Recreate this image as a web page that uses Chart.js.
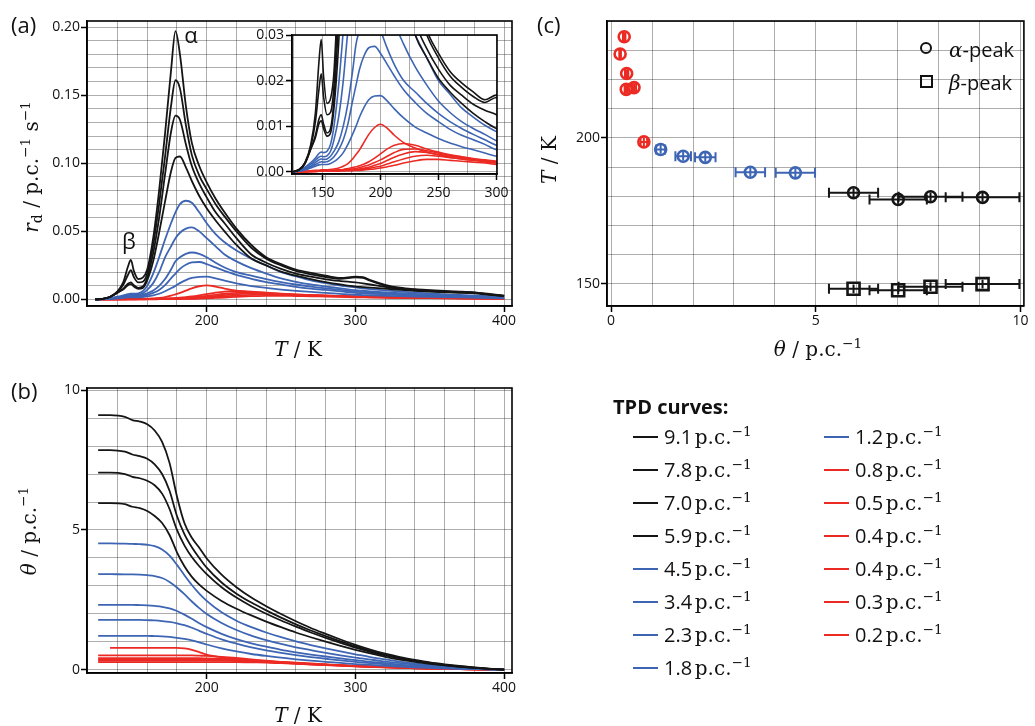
<!DOCTYPE html>
<html>
<head>
<meta charset="utf-8">
<script src="https://cdn.jsdelivr.net/npm/chart.js@4.4.1/dist/chart.umd.min.js"></script>
<style>
  body { margin: 0; background: #fff; }
  #page { position: relative; width: 1035px; height: 726px; overflow: hidden; font-family: "Open Sans", sans-serif; color: #111; }
  canvas { position: absolute; left: 0; top: 0; }
  .lbl { position: absolute; white-space: nowrap; line-height: 1; }
  .serif { font-family: "DejaVu Serif", serif; font-size: 20px; }
  .rot { transform: translate(-50%, -50%) rotate(-90deg); }
  .ctr { transform: translate(-50%, -50%); }
  .panel { font-size: 22px; }
  sup { font-size: 0.68em; vertical-align: 0.6em; line-height: 0; }
  sub { font-size: 0.7em; vertical-align: -0.3em; line-height: 0; }
  .row { position: absolute; height: 24px; white-space: nowrap; }
  .swatch { position: absolute; left: 0; top: 11px; width: 25px; height: 2px; }
  .rowtxt { position: absolute; left: 31px; top: 0; line-height: 24px; }
  .num { font-family: "Open Sans", sans-serif; font-size: 20px; }
</style>
</head>
<body>
<div id="page">
  <canvas id="chartA" width="1035" height="726"></canvas>
  <canvas id="chartInset" width="1035" height="726"></canvas>
  <canvas id="chartB" width="1035" height="726"></canvas>
  <canvas id="chartC" width="1035" height="726"></canvas>

  <div class="lbl panel" style="left:11px; top:13px;">(a)</div>
  <div class="lbl panel" style="left:11px; top:379px;">(b)</div>
  <div class="lbl panel" style="left:537px; top:13px;">(c)</div>

  <div class="lbl serif rot" style="left:31px; top:167px;"><i>r</i><sub>d</sub> / p.c.<sup>−1</sup> s<sup>−1</sup></div>
  <div class="lbl serif ctr" style="left:298px; top:349px;"><i>T</i> / K</div>
  <div class="lbl serif rot" style="left:29px; top:531px;"><i>θ</i> / p.c.<sup>−1</sup></div>
  <div class="lbl serif ctr" style="left:298px; top:715px;"><i>T</i> / K</div>
  <div class="lbl serif ctr" style="left:818px; top:349px;"><i>θ</i> / p.c.<sup>−1</sup></div>
  <div class="lbl serif rot" style="left:549px; top:160px;"><i>T</i> / K</div>

  <div class="lbl" style="left:920px; top:42px; width:12px; height:12px; border:2px solid #111; border-radius:50%; box-sizing:border-box;"></div>
  <div class="lbl" style="left:949px; top:40px; font-size:20px;"><span class="serif"><i>α</i></span>-peak</div>
  <div class="lbl" style="left:920px; top:75px; width:13px; height:13px; border:2px solid #111; box-sizing:border-box;"></div>
  <div class="lbl" style="left:949px; top:73px; font-size:20px;"><span class="serif"><i>β</i></span>-peak</div>

  <div class="lbl" style="left:613px; top:397px; font-size:20px; font-weight:700;">TPD curves:</div>
  <div id="legend"></div>
</div>

<script>
// ---- data ----
const temps = [125, 130, 135, 140, 144, 147, 149, 151, 154, 157, 160, 164, 168, 172, 176, 179,
  182, 186, 190, 195, 200, 206, 212, 220, 230, 240, 250, 260, 270, 280, 290,
  300, 305, 310, 320, 330, 340, 350, 360, 370, 380, 390, 400];

const rate91 = [0, 0.0005, 0.002, 0.006, 0.013, 0.024, 0.029, 0.021, 0.015, 0.016,
  0.022, 0.045, 0.080, 0.122, 0.168, 0.197, 0.180, 0.142, 0.115, 0.098, 0.086,
  0.074, 0.064, 0.052, 0.040, 0.031, 0.026, 0.022, 0.0195, 0.0175, 0.0158,
  0.0168, 0.0164, 0.0142, 0.0108, 0.0086, 0.0075, 0.0068, 0.0062, 0.0058, 0.0052, 0.004, 0.0028];
const rate78 = [0, 0.0005, 0.002, 0.0055, 0.011, 0.018, 0.0215, 0.0165, 0.0125, 0.013,
  0.019, 0.040, 0.070, 0.105, 0.142, 0.161, 0.155, 0.128, 0.106, 0.091, 0.081,
  0.070, 0.061, 0.050, 0.038, 0.030, 0.025, 0.021, 0.0185, 0.0165, 0.0152,
  0.0163, 0.0158, 0.0138, 0.0102, 0.0082, 0.0072, 0.0065, 0.006, 0.0056, 0.005, 0.0038, 0.0027];
const rate70 = [0, 0.0004, 0.0018, 0.005, 0.008, 0.0115, 0.0125, 0.0105, 0.0085, 0.0095,
  0.016, 0.034, 0.060, 0.092, 0.123, 0.135, 0.132, 0.114, 0.098, 0.085, 0.075,
  0.064, 0.056, 0.045, 0.033, 0.027, 0.0225, 0.019, 0.0168, 0.0148, 0.0135,
  0.0125, 0.0118, 0.011, 0.0092, 0.0077, 0.0067, 0.0061, 0.0056, 0.0052, 0.0046, 0.0036, 0.0026];
const rate59 = [0, 0.0004, 0.0018, 0.005, 0.0075, 0.0105, 0.0112, 0.0095, 0.0078, 0.0085,
  0.014, 0.028, 0.049, 0.072, 0.094, 0.104, 0.105, 0.097, 0.087, 0.076, 0.067,
  0.058, 0.050, 0.040, 0.030, 0.025, 0.0205, 0.0175, 0.015, 0.0128, 0.011,
  0.0095, 0.0091, 0.0087, 0.0079, 0.0071, 0.0063, 0.0057, 0.0053, 0.0049, 0.0044, 0.0034, 0.0025];
const rate45 = [0, 0.0003, 0.001, 0.002, 0.003, 0.004, 0.0043, 0.0042, 0.0045, 0.006,
  0.010, 0.019, 0.031, 0.044, 0.056, 0.064, 0.070, 0.0725, 0.071, 0.064, 0.056,
  0.048, 0.042, 0.036, 0.030, 0.025, 0.020, 0.017, 0.014, 0.012, 0.0102,
  0.0088, 0.0082, 0.0076, 0.0066, 0.0058, 0.005, 0.0044, 0.0038, 0.0033, 0.0028, 0.0023, 0.0018];
const rate34 = [0, 0.0002, 0.0008, 0.0016, 0.0025, 0.0032, 0.0034, 0.0033, 0.0035, 0.0045,
  0.007, 0.012, 0.020, 0.031, 0.039, 0.045, 0.049, 0.052, 0.053, 0.050, 0.045,
  0.039, 0.033, 0.028, 0.023, 0.019, 0.0155, 0.013, 0.011, 0.0095, 0.0082,
  0.0068, 0.0064, 0.006, 0.0052, 0.0046, 0.004, 0.0035, 0.003, 0.0026, 0.0022, 0.0018, 0.0015];
const rate23 = [0, 0.0002, 0.0006, 0.0012, 0.002, 0.0026, 0.0028, 0.0027, 0.0028, 0.0034,
  0.0045, 0.0065, 0.010, 0.015, 0.022, 0.028, 0.031, 0.0335, 0.0345, 0.0335, 0.031,
  0.027, 0.0235, 0.020, 0.0175, 0.015, 0.0128, 0.011, 0.0095, 0.0082, 0.007,
  0.0058, 0.0054, 0.0051, 0.0045, 0.0039, 0.0034, 0.003, 0.0026, 0.0022, 0.0019, 0.0016, 0.0013];
const rate18 = [0, 0.0002, 0.0005, 0.001, 0.0016, 0.002, 0.0022, 0.0021, 0.0022, 0.0026,
  0.0033, 0.0048, 0.007, 0.0105, 0.0155, 0.019, 0.0225, 0.0255, 0.0272, 0.0275, 0.026,
  0.0235, 0.021, 0.018, 0.0152, 0.0128, 0.011, 0.0093, 0.008, 0.007, 0.006,
  0.0048, 0.0045, 0.0042, 0.0037, 0.0032, 0.0028, 0.0025, 0.0022, 0.0019, 0.0016, 0.0014, 0.0011];
const rate12 = [0, 0.0001, 0.0004, 0.0008, 0.0012, 0.0015, 0.0016, 0.0016, 0.0016, 0.0018,
  0.0022, 0.003, 0.0042, 0.006, 0.0082, 0.010, 0.012, 0.0142, 0.0158, 0.0166, 0.0167,
  0.0155, 0.0138, 0.0118, 0.0098, 0.0085, 0.0073, 0.0063, 0.0055, 0.0048, 0.0041,
  0.0034, 0.0032, 0.003, 0.0027, 0.0024, 0.0021, 0.0019, 0.0017, 0.0015, 0.0013, 0.0011, 0.0009];
const rate08 = [0, 0, 0.0001, 0.0002, 0.0003, 0.0003, 0.0004, 0.0004, 0.0004, 0.0005,
  0.0006, 0.0008, 0.0012, 0.0018, 0.0028, 0.0038, 0.0048, 0.0065, 0.0082, 0.0097, 0.0104,
  0.0095, 0.008, 0.0064, 0.0052, 0.0043, 0.0037, 0.0032, 0.0028, 0.0025, 0.0022,
  0.0019, 0.0018, 0.0017, 0.0015, 0.0013, 0.0012, 0.0011, 0.001, 0.0009, 0.0008, 0.0007, 0.0006];
const rate05 = [0, 0, 0.0001, 0.0001, 0.0002, 0.0002, 0.0002, 0.0002, 0.0002, 0.0003,
  0.0003, 0.0004, 0.0005, 0.0007, 0.0009, 0.0011, 0.0013, 0.0017, 0.0022, 0.003, 0.0039,
  0.005, 0.0058, 0.0062, 0.0058, 0.005, 0.0043, 0.0037, 0.0033, 0.0029, 0.0026,
  0.0023, 0.0022, 0.0021, 0.0018, 0.0016, 0.0014, 0.0013, 0.0011, 0.001, 0.0009, 0.0008, 0.0006];
const rate04a = [0, 0, 0, 0.0001, 0.0001, 0.0002, 0.0002, 0.0002, 0.0002, 0.0002,
  0.0003, 0.0003, 0.0004, 0.0005, 0.0006, 0.0007, 0.0009, 0.0012, 0.0015, 0.002, 0.0026,
  0.0034, 0.0042, 0.0049, 0.005, 0.0046, 0.0041, 0.0036, 0.0032, 0.0028, 0.0025,
  0.0022, 0.0021, 0.002, 0.0017, 0.0015, 0.0013, 0.0012, 0.0011, 0.001, 0.0009, 0.0008, 0.0006];
const rate04b = [0, 0, 0, 0.0001, 0.0001, 0.0001, 0.0001, 0.0001, 0.0002, 0.0002,
  0.0002, 0.0003, 0.0003, 0.0004, 0.0004, 0.0005, 0.0006, 0.0008, 0.001, 0.0014, 0.0018,
  0.0025, 0.0032, 0.0039, 0.0044, 0.0042, 0.0038, 0.0034, 0.003, 0.0027, 0.0024,
  0.0021, 0.002, 0.0019, 0.0016, 0.0014, 0.0013, 0.0012, 0.001, 0.0009, 0.0008, 0.0007, 0.0006];
const rate03 = [0, 0, 0, 0, 0.0001, 0.0001, 0.0001, 0.0001, 0.0001, 0.0001,
  0.0002, 0.0002, 0.0002, 0.0003, 0.0003, 0.0004, 0.0005, 0.0006, 0.0007, 0.001, 0.0012,
  0.0017, 0.0022, 0.0028, 0.0034, 0.0036, 0.0034, 0.0031, 0.0028, 0.0025, 0.0022,
  0.0019, 0.0018, 0.0017, 0.0015, 0.0013, 0.0012, 0.0011, 0.001, 0.0009, 0.0008, 0.0007, 0.0005];
const rate02 = [0, 0, 0, 0, 0, 0.0001, 0.0001, 0.0001, 0.0001, 0.0001,
  0.0001, 0.0001, 0.0002, 0.0002, 0.0002, 0.0003, 0.0003, 0.0004, 0.0005, 0.0006, 0.0008,
  0.0011, 0.0014, 0.0019, 0.0024, 0.0027, 0.0027, 0.0025, 0.0023, 0.0021, 0.0019,
  0.0016, 0.0015, 0.0014, 0.0013, 0.0012, 0.0011, 0.001, 0.0009, 0.0008, 0.0007, 0.0006, 0.0005];

const tempsCov = [127, 135, 145, 150, 155, 160, 165, 170, 175, 180, 185, 190, 195, 200,
  210, 220, 230, 240, 250, 260, 270, 280, 290, 300, 310, 320, 330, 340, 350, 360, 370, 380, 390, 400];

const cov91 = [9.11, 9.11, 9.05, 8.93, 8.88, 8.78, 8.56, 8.15, 7.4, 6.2, 5.25, 4.72, 4.36, 3.98,
  3.4, 2.95, 2.58, 2.27, 1.99, 1.73, 1.49, 1.28, 1.08, 0.89, 0.72, 0.57, 0.45, 0.35, 0.26, 0.19, 0.13, 0.08, 0.035, 0];
const cov78 = [7.86, 7.86, 7.8, 7.7, 7.64, 7.55, 7.35, 7.0, 6.4, 5.5, 4.85, 4.38, 4.0, 3.65,
  3.12, 2.72, 2.4, 2.12, 1.86, 1.62, 1.4, 1.2, 1.01, 0.83, 0.67, 0.53, 0.42, 0.32, 0.24, 0.17, 0.12, 0.07, 0.03, 0];
const cov70 = [7.05, 7.05, 7.0, 6.9, 6.85, 6.76, 6.6, 6.3, 5.75, 5.0, 4.45, 4.03, 3.7, 3.42,
  2.95, 2.58, 2.27, 2.0, 1.76, 1.54, 1.33, 1.14, 0.96, 0.79, 0.64, 0.51, 0.4, 0.31, 0.23, 0.16, 0.11, 0.065, 0.03, 0];
const cov59 = [5.96, 5.96, 5.92, 5.83, 5.78, 5.68, 5.5, 5.25, 4.82, 4.2, 3.7, 3.32, 3.04, 2.82,
  2.46, 2.18, 1.94, 1.72, 1.52, 1.33, 1.16, 1.0, 0.85, 0.71, 0.58, 0.46, 0.36, 0.28, 0.21, 0.15, 0.1, 0.06, 0.025, 0];
const cov45 = [4.52, 4.52, 4.51, 4.5, 4.49, 4.47, 4.42, 4.3, 4.08, 3.75, 3.38, 3.03, 2.72, 2.46,
  2.05, 1.75, 1.52, 1.33, 1.16, 1.01, 0.88, 0.76, 0.65, 0.55, 0.45, 0.37, 0.29, 0.22, 0.17, 0.12, 0.08, 0.05, 0.02, 0];
const cov34 = [3.42, 3.42, 3.41, 3.41, 3.4, 3.38, 3.35, 3.28, 3.14, 2.94, 2.7, 2.44, 2.2, 1.99,
  1.67, 1.42, 1.22, 1.06, 0.92, 0.8, 0.7, 0.6, 0.51, 0.43, 0.36, 0.29, 0.23, 0.18, 0.13, 0.09, 0.06, 0.035, 0.015, 0];
const cov23 = [2.32, 2.32, 2.32, 2.32, 2.31, 2.3, 2.28, 2.25, 2.19, 2.1, 1.97, 1.82, 1.66, 1.52,
  1.28, 1.09, 0.94, 0.82, 0.71, 0.62, 0.54, 0.47, 0.4, 0.34, 0.28, 0.23, 0.18, 0.14, 0.1, 0.07, 0.05, 0.03, 0.012, 0];
const cov18 = [1.78, 1.78, 1.78, 1.78, 1.78, 1.77, 1.76, 1.74, 1.71, 1.66, 1.59, 1.5, 1.39, 1.28,
  1.08, 0.93, 0.8, 0.69, 0.6, 0.52, 0.45, 0.39, 0.33, 0.28, 0.23, 0.19, 0.15, 0.11, 0.08, 0.06, 0.04, 0.025, 0.01, 0];
const cov12 = [1.21, 1.21, 1.21, 1.21, 1.21, 1.21, 1.2, 1.19, 1.17, 1.14, 1.1, 1.05, 0.98, 0.9,
  0.76, 0.65, 0.56, 0.49, 0.43, 0.37, 0.32, 0.28, 0.24, 0.2, 0.17, 0.14, 0.11, 0.085, 0.06, 0.045, 0.03, 0.018, 0.008, 0];
const cov08 = [null, 0.78, 0.78, 0.78, 0.78, 0.78, 0.78, 0.78, 0.78, 0.78, 0.76, 0.71, 0.63, 0.54,
  0.44, 0.38, 0.33, 0.29, 0.26, 0.23, 0.2, 0.18, 0.15, 0.13, 0.11, 0.09, 0.07, 0.055, 0.04, 0.03, 0.02, 0.012, 0.005, 0];
const cov05 = [0.51, 0.51, 0.51, 0.51, 0.51, 0.51, 0.51, 0.51, 0.51, 0.51, 0.51, 0.51, 0.5, 0.49,
  0.46, 0.42, 0.37, 0.32, 0.28, 0.25, 0.22, 0.19, 0.16, 0.14, 0.12, 0.1, 0.08, 0.06, 0.045, 0.03, 0.02, 0.012, 0.005, 0];
const cov04a = [0.41, 0.41, 0.41, 0.41, 0.41, 0.41, 0.41, 0.41, 0.41, 0.41, 0.41, 0.41, 0.41, 0.4,
  0.39, 0.37, 0.34, 0.3, 0.27, 0.24, 0.21, 0.18, 0.16, 0.13, 0.11, 0.09, 0.075, 0.06, 0.045, 0.03, 0.02, 0.012, 0.005, 0];
const cov04b = [0.37, 0.37, 0.37, 0.37, 0.37, 0.37, 0.37, 0.37, 0.37, 0.37, 0.37, 0.37, 0.37, 0.37,
  0.36, 0.35, 0.32, 0.29, 0.26, 0.23, 0.2, 0.18, 0.15, 0.13, 0.11, 0.09, 0.07, 0.055, 0.04, 0.03, 0.02, 0.011, 0.005, 0];
const cov03 = [0.32, 0.32, 0.32, 0.32, 0.32, 0.32, 0.32, 0.32, 0.32, 0.32, 0.32, 0.32, 0.32, 0.32,
  0.32, 0.31, 0.29, 0.27, 0.24, 0.22, 0.19, 0.17, 0.15, 0.12, 0.1, 0.085, 0.07, 0.05, 0.04, 0.03, 0.02, 0.011, 0.005, 0];
const cov02 = [0.27, 0.27, 0.27, 0.27, 0.27, 0.27, 0.27, 0.27, 0.27, 0.27, 0.27, 0.27, 0.27, 0.27,
  0.27, 0.27, 0.26, 0.25, 0.23, 0.21, 0.18, 0.16, 0.14, 0.12, 0.1, 0.08, 0.065, 0.05, 0.038, 0.028, 0.018, 0.01, 0.004, 0];

const curveLabels = ['9.1', '7.8', '7.0', '5.9', '4.5', '3.4', '2.3', '1.8', '1.2', '0.8', '0.5', '0.4', '0.4', '0.3', '0.2'];
const curveGroups = ['black', 'black', 'black', 'black', 'blue', 'blue', 'blue', 'blue', 'blue', 'red', 'red', 'red', 'red', 'red', 'red'];
const rateCurves = [rate91, rate78, rate70, rate59, rate45, rate34, rate23, rate18, rate12, rate08, rate05, rate04a, rate04b, rate03, rate02];
const coverCurves = [cov91, cov78, cov70, cov59, cov45, cov34, cov23, cov18, cov12, cov08, cov05, cov04a, cov04b, cov03, cov02];

// peak positions, panel (c)
const alphaCover = [9.07, 7.80, 7.01, 5.92, 4.50, 3.40, 2.30, 1.76, 1.21, 0.80, 0.56, 0.38, 0.37, 0.32, 0.22];
const alphaTemp = [179.6, 179.8, 178.9, 181.2, 188.0, 188.2, 193.3, 193.7, 196.0, 198.6, 217.2, 222.0, 216.6, 234.6, 228.7];
const alphaCoverErr = [0.90, 0.78, 0.70, 0.60, 0.48, 0.36, 0.25, 0.19, 0.11, 0.08, 0.05, 0.04, 0.04, 0.03, 0.02];
const alphaTempErr = [1.5, 1.5, 1.5, 1.5, 1.5, 1.5, 1.5, 1.5, 1.5, 1.5, 1.5, 1.5, 1.5, 1.5, 1.5];
const alphaGroups = curveGroups;
const betaCover = [9.07, 7.80, 7.01, 5.92];
const betaTemp = [149.9, 149.0, 147.8, 148.3];
const betaCoverErr = [0.90, 0.78, 0.70, 0.60];
const betaTempErr = [1.5, 1.5, 1.5, 1.5];
const betaGroups = ['black', 'black', 'black', 'black'];

// tick labels
const tempTicks = [200, 300, 400];
const rateTicks = [0, 0.05, 0.10, 0.15, 0.20];
const insetTempTicks = [150, 200, 250, 300];
const insetRateTicks = [0, 0.01, 0.02, 0.03];
const coverTicks = [0, 5, 10];
const peakTempTicks = [150, 200];

// peak names in panel (a)
const peakNames = ['α', 'β'];
const peakNameTemp = [189.5, 147.7];
const peakNameRate = [0.193, 0.0415];

// ---- styling ----
const groupColor = { black: '#151515', blue: '#3d65b4', red: '#ec2a24' };
const tickFont = { family: 'Open Sans', size: 14 };

function gridScale(o) {
  const isLabel = v => o.labels.some(l => Math.abs(l - v) < 1e-7);
  return {
    type: 'linear',
    position: o.position,
    min: o.min, max: o.max,
    afterBuildTicks: s => {
      const t = [];
      for (let v = o.start; v <= o.max + 1e-9; v += o.step) t.push({ value: +v.toFixed(6) });
      s.ticks = t;
    },
    afterFit: s => {
      if (o.position === 'bottom') { s.height = o.size; s.paddingLeft = 0; s.paddingRight = 0; }
      else { s.width = o.size; s.paddingTop = 0; s.paddingBottom = 0; }
    },
    ticks: {
      autoSkip: false, maxRotation: 0, padding: o.pad, color: '#111', font: tickFont,
      callback: v => isLabel(v) ? o.fmt(v) : ''
    },
    grid: {
      color: 'rgba(0,0,0,0.32)', lineWidth: 1, tickLength: 6, tickWidth: 1.5,
      tickColor: c => (c.tick && isLabel(c.tick.value)) ? '#000' : 'rgba(0,0,0,0)'
    },
    border: { display: true, color: '#000', width: 1.5 }
  };
}

const framePlugin = {
  id: 'frame',
  beforeDraw(chart, args, opts) {
    if (!opts.fill) return;
    const a = chart.chartArea, ctx = chart.ctx;
    ctx.save(); ctx.fillStyle = '#fff';
    ctx.fillRect(a.left, a.top, a.right - a.left, a.bottom - a.top);
    ctx.restore();
  },
  afterDatasetsDraw(chart) {
    const a = chart.chartArea, ctx = chart.ctx;
    ctx.save(); ctx.strokeStyle = '#000'; ctx.lineWidth = 1.6;
    ctx.strokeRect(a.left, a.top, a.right - a.left, a.bottom - a.top);
    ctx.restore();
  }
};

const peakNamePlugin = {
  id: 'peakNames',
  afterDatasetsDraw(chart) {
    const { ctx, scales: { x, y } } = chart;
    ctx.save();
    ctx.font = '22px "Open Sans"'; ctx.fillStyle = '#111';
    ctx.textAlign = 'center'; ctx.textBaseline = 'middle';
    peakNames.forEach((n, i) => ctx.fillText(n, x.getPixelForValue(peakNameTemp[i]), y.getPixelForValue(peakNameRate[i])));
    ctx.restore();
  }
};

const errorBarPlugin = {
  id: 'errorBars',
  beforeDatasetsDraw(chart) {
    const { ctx, scales: { x, y } } = chart;
    chart.data.datasets.forEach(ds => {
      ds.data.forEach((p, i) => {
        const px = x.getPixelForValue(p.x), py = y.getPixelForValue(p.y);
        const x0 = x.getPixelForValue(p.x - p.xErr), x1 = x.getPixelForValue(p.x + p.xErr);
        const y0 = y.getPixelForValue(p.y - p.yErr), y1 = y.getPixelForValue(p.y + p.yErr);
        ctx.save();
        ctx.strokeStyle = ds.pointBorderColor[i]; ctx.lineWidth = 2;
        ctx.beginPath();
        ctx.moveTo(x0, py); ctx.lineTo(x1, py);
        ctx.moveTo(x0, py - 5); ctx.lineTo(x0, py + 5);
        ctx.moveTo(x1, py - 5); ctx.lineTo(x1, py + 5);
        ctx.moveTo(px, y0); ctx.lineTo(px, y1);
        ctx.stroke();
        ctx.restore();
      });
    });
  }
};

function lineSets(xs, curves, width) {
  return curves.map((vals, k) => ({
    label: curveLabels[k] + ' p.c.⁻¹',
    data: xs.map((t, i) => ({ x: t, y: vals[i] })),
    borderColor: groupColor[curveGroups[k]],
    borderWidth: width,
    pointRadius: 0,
    cubicInterpolationMode: 'monotone',
    fill: false
  }));
}

function baseOptions(padding, xScale, yScale, pluginOpts) {
  return {
    responsive: false, animation: false, devicePixelRatio: 1,
    layout: { padding },
    scales: { x: xScale, y: yScale },
    plugins: Object.assign({ legend: { display: false }, tooltip: { enabled: false } }, pluginOpts || {})
  };
}

// panel (a): chart area 87..512 x 21..306
new Chart(document.getElementById('chartA'), {
  type: 'line',
  data: { datasets: lineSets(temps, rateCurves, 1.8) },
  options: baseOptions({ left: 27, right: 523, top: 21, bottom: 390 },
    gridScale({ position: 'bottom', min: 119.5, max: 405.3, start: 120, step: 20, labels: tempTicks, fmt: v => String(v), size: 30, pad: 1 }),
    gridScale({ position: 'left', min: -0.0048, max: 0.2045, start: 0, step: 0.01, labels: rateTicks, fmt: v => v.toFixed(2), size: 60, pad: 1 })),
  plugins: [framePlugin, peakNamePlugin]
});

// inset: chart area 292..497 x 35..174
new Chart(document.getElementById('chartInset'), {
  type: 'line',
  data: { datasets: lineSets(temps, rateCurves, 1.6) },
  options: baseOptions({ left: 247, right: 538, top: 35, bottom: 527 },
    gridScale({ position: 'bottom', min: 123.8, max: 300.5, start: 125, step: 25, labels: insetTempTicks, fmt: v => String(v), size: 25, pad: 5 }),
    gridScale({ position: 'left', min: -0.0005, max: 0.03, start: 0, step: 0.005, labels: insetRateTicks, fmt: v => v.toFixed(2), size: 45, pad: 2 }),
    { frame: { fill: true } }),
  plugins: [framePlugin]
});

// panel (b): chart area 87..512 x 388..673
new Chart(document.getElementById('chartB'), {
  type: 'line',
  data: { datasets: lineSets(tempsCov, coverCurves, 1.8) },
  options: baseOptions({ left: 27, right: 523, top: 388, bottom: 23 },
    gridScale({ position: 'bottom', min: 119.5, max: 405.3, start: 120, step: 20, labels: tempTicks, fmt: v => String(v), size: 30, pad: 1 }),
    gridScale({ position: 'left', min: -0.12, max: 10.08, start: 0, step: 1, labels: coverTicks, fmt: v => String(v), size: 60, pad: 1 })),
  plugins: [framePlugin]
});

// panel (c): chart area 607..1032 x 21..306
function peakSet(cov, tmp, covErr, tmpErr, groups, style, radius) {
  return {
    data: cov.map((c, i) => ({ x: c, y: tmp[i], xErr: covErr[i], yErr: tmpErr[i] })),
    pointStyle: style,
    pointRadius: radius,
    pointBorderWidth: 2.6,
    pointBorderColor: groups.map(g => groupColor[g]),
    pointBackgroundColor: 'rgba(255,255,255,0)',
    showLine: false
  };
}
new Chart(document.getElementById('chartC'), {
  type: 'scatter',
  data: {
    datasets: [
      peakSet(alphaCover, alphaTemp, alphaCoverErr, alphaTempErr, alphaGroups, 'circle', 5.5),
      peakSet(betaCover, betaTemp, betaCoverErr, betaTempErr, betaGroups, 'rect', 8.5)
    ]
  },
  options: baseOptions({ left: 567, right: 3, top: 21, bottom: 390 },
    gridScale({ position: 'bottom', min: -0.1, max: 10.08, start: 0, step: 1, labels: coverTicks, fmt: v => String(v), size: 30, pad: 1 }),
    gridScale({ position: 'left', min: 142.4, max: 240, start: 150, step: 10, labels: peakTempTicks, fmt: v => String(v), size: 40, pad: 1 })),
  plugins: [framePlugin, errorBarPlugin]
});

// legend of TPD curves
const legend = document.getElementById('legend');
curveLabels.forEach((lab, k) => {
  const col = k < 8 ? 0 : 1;
  const row = k < 8 ? k : k - 8;
  const d = document.createElement('div');
  d.className = 'row';
  d.style.left = (col === 0 ? 633 : 824) + 'px';
  d.style.top = (425 + row * 33) + 'px';
  d.innerHTML = '<div class="swatch" style="background:' + groupColor[curveGroups[k]] + '"></div>' +
    '<div class="rowtxt"><span class="num">' + lab + '</span>&#8201;<span class="serif">p.c.<sup>−1</sup></span></div>';
  legend.appendChild(d);
});
</script>
</body>
</html>
